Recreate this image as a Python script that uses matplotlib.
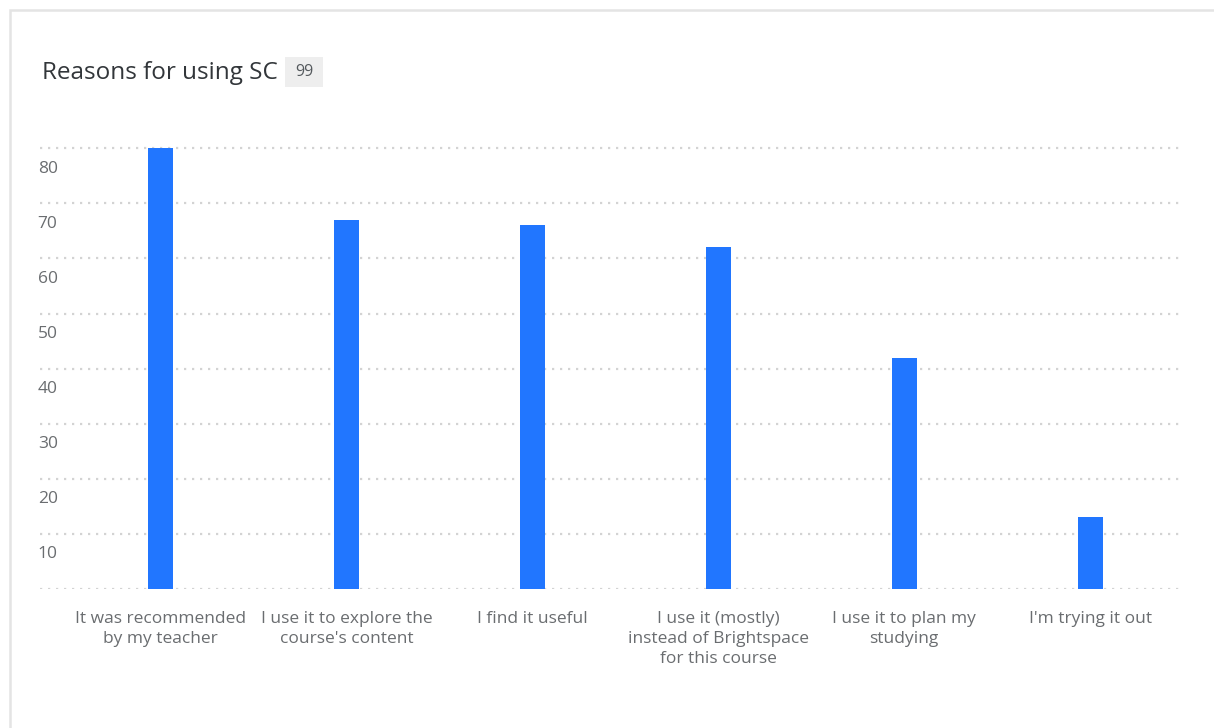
import matplotlib
matplotlib.use("Agg")
import matplotlib.pyplot as plt
import matplotlib.transforms as mtransforms
from matplotlib.patches import Rectangle

# survey counts per reason
reasons = [
    "It was recommended\nby my teacher",
    "I use it to explore the\ncourse's content",
    "I find it useful",
    "I use it (mostly)\ninstead of Brightspace\nfor this course",
    "I use it to plan my\nstudying",
    "I'm trying it out",
]
counts = [80, 67, 66, 62, 42, 13]
y_ticks = [10, 20, 30, 40, 50, 60, 70, 80]
n_responses = 99

bar_color = "#2176ff"
grid_color = "#d3d3d3"
text_gray = "#6a6d70"

plt.rcParams["font.family"] = ["Open Sans", "DejaVu Sans"]

W, H = 1214, 728
fig = plt.figure(figsize=(W / 100, H / 100), dpi=100)
fig.patch.set_facecolor("white")

# card outline
fig.patches.append(Rectangle((10 / W, -0.05), 1.1, 1 - 10 / H + 0.05,
                             transform=fig.transFigure, facecolor="none",
                             edgecolor="#e4e4e4", linewidth=1.8, zorder=-1))

ax = fig.add_axes([40 / W, 1 - 589 / H, (1183 - 40) / W, (589 - 146) / H])
ax.set_facecolor("none")

x = list(range(len(counts)))
ax.bar(x, counts, width=0.135, color=bar_color, zorder=3)

ax.set_xlim(-0.65, 5.5)
ax.set_ylim(0, 80.4)

for v in [0] + y_ticks:
    ax.axhline(v, color=grid_color, linewidth=1.6, linestyle=(0, (1, 2.6)),
               zorder=1)

for s in ax.spines.values():
    s.set_visible(False)

ax.set_yticks([])
ax.set_xticks(x)
ax.set_xticklabels(reasons, fontsize=12.5, color=text_gray, linespacing=1.32)
ax.tick_params(axis="x", length=0, pad=16)

# y labels sit just below their grid line
lab_tr = mtransforms.blended_transform_factory(ax.transAxes, ax.transData) + \
    mtransforms.ScaledTranslation(0, -0.205, fig.dpi_scale_trans)
for v in y_ticks:
    ax.text(-0.002, v, str(v), transform=lab_tr, ha="left", va="center",
            fontsize=12.5, color=text_gray)

fig.text(42 / W, 1 - 73 / H, "Reasons for using SC", fontsize=17.5,
         color="#32363a", ha="left", va="center")
fig.patches.append(Rectangle((285 / W, 1 - 87 / H), 38 / W, 30 / H,
                             transform=fig.transFigure, facecolor="#eeeeee",
                             edgecolor="none", zorder=1))
fig.text(304 / W, 1 - 72 / H, str(n_responses), fontsize=11.5, color="#555a5e",
         ha="center", va="center")

fig.savefig("out.png", dpi=100)
